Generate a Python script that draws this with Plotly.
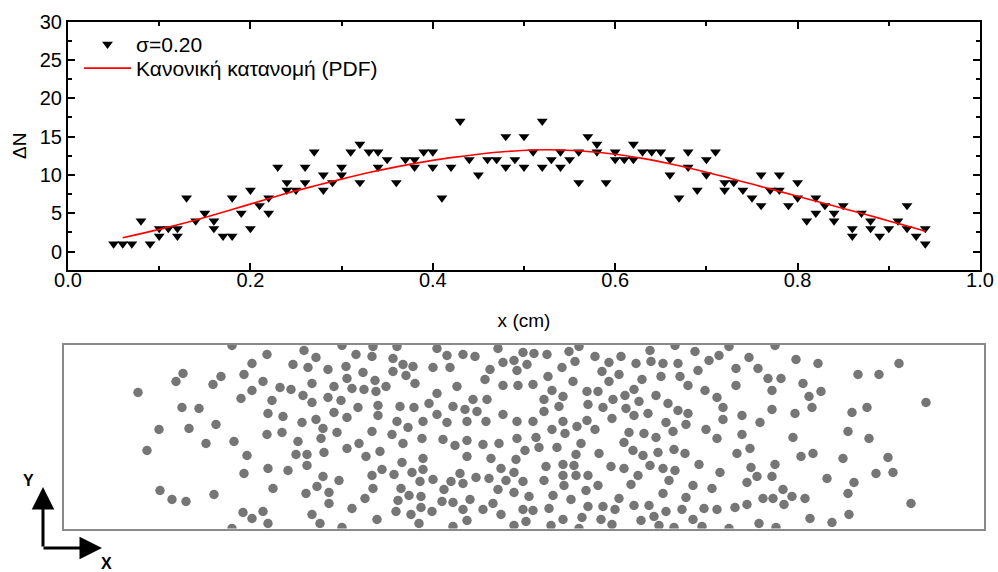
import plotly.graph_objects as go

# ---- Top panel: particle count per slice along x ----
bin_x = [
    0.05, 0.06, 0.07, 0.08, 0.09, 0.10, 0.10, 0.11, 0.12, 0.12, 0.13, 0.14, 0.15,
    0.16, 0.16, 0.17, 0.18, 0.18, 0.19, 0.20, 0.20, 0.21, 0.22, 0.22, 0.23, 0.24,
    0.24, 0.25, 0.26, 0.26, 0.27, 0.28, 0.28, 0.29, 0.30, 0.30, 0.31, 0.32, 0.32,
    0.33, 0.34, 0.34, 0.35, 0.36, 0.37, 0.38, 0.38, 0.39, 0.40, 0.40, 0.41, 0.42,
    0.43, 0.44, 0.45, 0.46, 0.47, 0.48, 0.48, 0.49, 0.50, 0.50, 0.51, 0.52, 0.52,
    0.53, 0.54, 0.54, 0.55, 0.56, 0.56, 0.57, 0.58, 0.58, 0.59, 0.60, 0.60, 0.61,
    0.62, 0.62, 0.63, 0.64, 0.65, 0.66, 0.66, 0.67, 0.68, 0.68, 0.69, 0.70, 0.70,
    0.71, 0.72, 0.72, 0.73, 0.74, 0.75, 0.76, 0.76, 0.77, 0.78, 0.78, 0.79, 0.80,
    0.80, 0.81, 0.82, 0.82, 0.83, 0.84, 0.84, 0.85, 0.86, 0.86, 0.87, 0.88, 0.88,
    0.89, 0.90, 0.91, 0.92, 0.92, 0.93, 0.94, 0.94,
]
delta_n = [
    1, 1, 1, 4, 1, 2, 3, 3, 3, 2, 7, 4, 5,
    4, 3, 2, 2, 7, 5, 3, 8, 6, 5, 7, 11, 9,
    8, 8, 11, 9, 13, 10, 8, 9, 11, 10, 13, 14, 9,
    13, 13, 11, 12, 9, 12, 12, 11, 13, 13, 11, 7, 11,
    17, 12, 10, 12, 12, 15, 11, 12, 15, 11, 13, 17, 11,
    12, 13, 11, 12, 13, 9, 15, 14, 13, 9, 13, 12, 12,
    14, 12, 13, 13, 13, 12, 10, 7, 13, 11, 8, 12, 10,
    13, 9, 8, 9, 8, 7, 10, 6, 8, 10, 8, 6, 9,
    7, 4, 7, 5, 6, 5, 4, 6, 3, 2, 5, 4, 3,
    2, 3, 4, 6, 3, 2, 3, 1,
]

# Fitted normal distribution curve
pdf_x = [0.06, 0.10, 0.13, 0.15, 0.18, 0.21, 0.24, 0.27, 0.30, 0.33, 0.36, 0.39,
         0.42, 0.45, 0.48, 0.51, 0.54, 0.57, 0.60, 0.63, 0.66, 0.69, 0.72, 0.75,
         0.78, 0.81, 0.84, 0.87, 0.90, 0.93, 0.94]
pdf_y = [1.8, 2.9, 3.8, 4.45, 5.5, 6.55, 7.6, 8.55, 9.45, 10.3, 11.05, 11.7,
         12.25, 12.7, 13.05, 13.25, 13.25, 13.05, 12.7, 12.15, 11.45, 10.65, 9.75, 8.8,
         7.85, 6.9, 5.95, 5.0, 4.0, 3.0, 2.65]

# ---- Bottom panel: particle positions in the cell (cell is 920 x 184 units) ----
particle_x = [
    168, 203, 240, 278, 252, 292, 188, 229, 244, 264, 282, 299, 119, 157, 112, 149,
    180, 199, 248, 270, 283, 288, 300, 74, 188, 216, 227, 239, 177, 208, 264, 277,
    248, 118, 135, 294, 204, 219, 270, 283, 95, 125, 152, 238, 252, 259, 203, 218,
    273, 257, 142, 170, 234, 295, 83, 283, 183, 232, 243, 260, 302, 243, 180, 204,
    224, 259, 275, 209, 253, 242, 265, 96, 108, 122, 150, 301, 265, 288, 179, 199,
    188, 204, 248, 256, 168, 278,
    309, 333, 373, 434, 308, 329, 383, 399, 411, 459, 339, 349, 369, 386, 439, 450,
    463, 329, 342, 426, 453, 311, 351, 393, 421, 439, 454, 322, 312, 373, 409, 423,
    365, 314, 336, 350, 389, 401, 413, 439, 314, 373, 333, 359, 383, 403, 422, 453,
    344, 308, 328,
    358, 379, 403, 453, 339, 391, 419, 435, 461, 316, 359, 403, 427, 452, 338, 318,
    359, 437, 308, 330, 348, 396, 450, 356, 369, 387, 399, 412, 425, 442, 459, 309,
    337, 380, 434, 450, 345, 357, 334, 378, 389, 406, 429, 465, 332, 357, 368, 347,
    399, 419, 437, 459, 313, 355, 403, 389, 450, 462,
    470, 483, 505, 515, 531, 557, 586, 611, 498, 511, 545, 572, 587, 599, 614, 538,
    555, 484, 509, 545, 578, 597, 616, 469, 624, 488, 523, 534, 570, 499, 561, 592,
    480, 549, 575, 524, 604, 495, 539, 562, 614, 480, 570, 584, 624, 548, 469, 499,
    523, 602, 488, 513, 531, 501, 565, 580, 609, 622,
    472, 592, 475, 493, 517, 512, 535, 560, 569, 579, 594, 610, 621, 482, 499, 510,
    547, 560, 586, 599, 611, 499, 512, 524, 574, 480, 605, 500, 534, 567, 522, 599,
    489, 507, 555, 622, 524, 539, 551, 570, 585, 469, 485, 602, 618, 499, 518, 537,
    577, 590, 487, 548, 595, 610, 515,
    631, 655, 645, 634, 685, 672, 694, 704, 717, 732, 754, 794, 815, 835, 672, 641,
    653, 708, 739, 745, 757, 659, 678, 708, 731, 748, 788, 803, 862, 659, 642, 696,
    678, 653, 729, 784, 805, 686, 673, 737, 749, 779, 824, 635, 656, 687, 711, 693,
    708, 683, 763, 790, 812, 829, 629, 648, 719, 728, 741, 709, 699, 720, 683, 671,
    653, 640, 784, 785, 847, 629, 638, 665, 695, 712, 746, 768, 665, 711,
]
particle_y = [
    183, 174, 178, 183, 171, 174, 165, 164, 161, 159, 162, 156, 155, 152, 147, 144,
    154, 147, 145, 142, 150, 140, 139, 136, 138, 141, 139, 133, 130, 128, 131, 128,
    126, 121, 120, 121, 115, 112, 116, 111, 99, 100, 104, 106, 109, 100, 94, 96,
    96, 90, 85, 87, 87, 85, 78, 80, 73, 74, 74, 76, 72, 63, 55, 60,
    58, 52, 48, 40, 42, 35, 36, 38, 29, 27, 34, 30, 25, 20, 16, 17,
    10, 5, 14, 5, 0, 1,
    182, 182, 180, 180, 172, 170, 173, 174, 172, 176, 164, 162, 161, 161, 166, 168,
    164, 157, 153, 159, 158, 148, 145, 142, 149, 143, 143, 142, 137, 135, 129, 129,
    125, 123, 122, 121, 122, 119, 117, 114, 113, 114, 107, 107, 106, 107, 107, 107,
    101, 97, 94,
    90, 89, 88, 90, 85, 83, 84, 85, 78, 77, 70, 72, 70, 69, 66, 59,
    59, 60, 53, 54, 56, 55, 56, 47, 49, 47, 45, 51, 50, 48, 47, 40,
    40, 39, 39, 36, 33, 32, 28, 27, 26, 29, 25, 32, 17, 21, 17, 14,
    19, 19, 14, 19, 9, 5, 8, 2, 3, 7,
    175, 174, 177, 182, 172, 172, 178, 183, 161, 167, 166, 165, 167, 165, 165, 157,
    154, 152, 147, 147, 149, 152, 152, 144, 143, 138, 137, 137, 139, 132, 133, 133,
    129, 129, 127, 124, 125, 122, 121, 120, 118, 117, 113, 115, 115, 110, 107, 107,
    108, 106, 99, 102, 99, 95, 96, 95, 97, 104,
    91, 91, 81, 81, 85, 74, 75, 86, 78, 73, 76, 79, 75, 62, 64, 63,
    62, 60, 63, 60, 58, 53, 53, 53, 53, 48, 48, 43, 43, 44, 38, 35,
    33, 29, 30, 31, 22, 22, 19, 23, 23, 18, 20, 17, 19, 9, 11, 9,
    8, 12, 3, 4, 3, 1, 0,
    177, 173, 168, 158, 171, 160, 160, 150, 150, 169, 165, 154, 154, 165, 143, 138,
    131, 138, 145, 132, 137, 121, 113, 119, 115, 121, 116, 121, 126, 109, 99, 106,
    94, 90, 91, 97, 90, 80, 75, 72, 75, 70, 71, 64, 56, 61, 64, 52,
    52, 46, 50, 46, 55, 56, 43, 40, 39, 32, 30, 30, 30, 24, 24, 21,
    19, 20, 35, 14, 25, 9, 2, 0, 5, 1, 10, 6, 182, 183,
]

FONT = "Liberation Sans, Arial, sans-serif"
W, H = 998, 572

fig = go.Figure()

fig.add_trace(go.Scatter(
    x=bin_x, y=delta_n, mode="markers", name="σ=0.20", legend="legend",
    marker=dict(symbol="triangle-down", size=9.5, color="black", line=dict(width=0)),
    xaxis="x", yaxis="y",
))
fig.add_trace(go.Scatter(
    x=pdf_x, y=pdf_y, mode="lines", name="Κανονική κατανομή (PDF)", legend="legend2",
    line=dict(color="#ff0000", width=1.6, shape="spline", smoothing=1.0),
    xaxis="x", yaxis="y",
))
fig.add_trace(go.Scatter(
    x=particle_x, y=particle_y, mode="markers", showlegend=False,
    marker=dict(size=9.5, color="#767676", line=dict(width=0)),
    cliponaxis=True, xaxis="x2", yaxis="y2",
))

axis_common = dict(
    showline=True, linecolor="black", linewidth=2, mirror="allticks",
    ticks="inside", ticklen=7, tickwidth=1.5, tickcolor="black",
    showgrid=False, zeroline=False, automargin=False,
    tickfont=dict(family=FONT, size=20, color="black"),
)

legend_common = dict(
    xanchor="left", yanchor="top", bgcolor="rgba(0,0,0,0)", borderwidth=0,
    font=dict(family=FONT, size=21, color="black"), itemwidth=47,
)

fig.update_layout(
    width=W, height=H,
    margin=dict(l=0, r=0, t=0, b=0, autoexpand=False),
    paper_bgcolor="white", plot_bgcolor="white",
    font=dict(family=FONT, size=20, color="black"),
    showlegend=True,
    legend=dict(legend_common, x=79 / W, y=1 - 24 / H),
    legend2=dict(legend_common, x=79 / W, y=1 - 48 / H),
    xaxis=dict(
        axis_common, domain=[68 / W, 980 / W], range=[0, 1], tick0=0, dtick=0.2,
        tickformat=".1f", anchor="y", ticklabelstandoff=-9,
        minor=dict(ticks="inside", ticklen=4, tickwidth=1.5, dtick=0.1, tickcolor="black"),
        title=dict(text="x (cm)", font=dict(family=FONT, size=19), standoff=24),
    ),
    yaxis=dict(
        axis_common, domain=[1 - 270 / H, 1 - 21.5 / H], range=[-2.4, 30], tick0=0, dtick=5,
        anchor="x",
        minor=dict(ticks="inside", ticklen=4, tickwidth=1.5, dtick=2.5, tickcolor="black"),
        title=dict(text="ΔN", font=dict(family=FONT, size=19), standoff=8),
    ),
    xaxis2=dict(
        domain=[64 / W, 984 / W], range=[0, 920], anchor="y2", automargin=False,
        showline=True, linecolor="#8a8a8a", linewidth=1.5, mirror=True,
        showticklabels=False, ticks="", showgrid=False, zeroline=False,
    ),
    yaxis2=dict(
        domain=[1 - 528.5 / H, 1 - 344.5 / H], range=[0, 184], anchor="x2", automargin=False,
        showline=True, linecolor="#8a8a8a", linewidth=1.5, mirror=True,
        showticklabels=False, ticks="", showgrid=False, zeroline=False,
    ),
)

# Coordinate-system glyph next to the cell
arrow = dict(xref="paper", yref="paper", text="", showarrow=True,
             arrowhead=2, arrowsize=1.5, arrowwidth=3, arrowcolor="black", standoff=0)
fig.add_annotation(arrow, x=43 / W, y=1 - 487 / H, ax=0, ay=61)
fig.add_annotation(arrow, x=102 / W, y=1 - 548 / H, ax=-60, ay=0)
label = dict(xref="paper", yref="paper", showarrow=False, xanchor="center", yanchor="middle",
             font=dict(family=FONT, size=16, color="black"))
fig.add_annotation(label, x=28 / W, y=1 - 480 / H, text="<b>Y</b>")
fig.add_annotation(label, x=106 / W, y=1 - 563 / H, text="<b>X</b>")

fig.write_html("out.html")
